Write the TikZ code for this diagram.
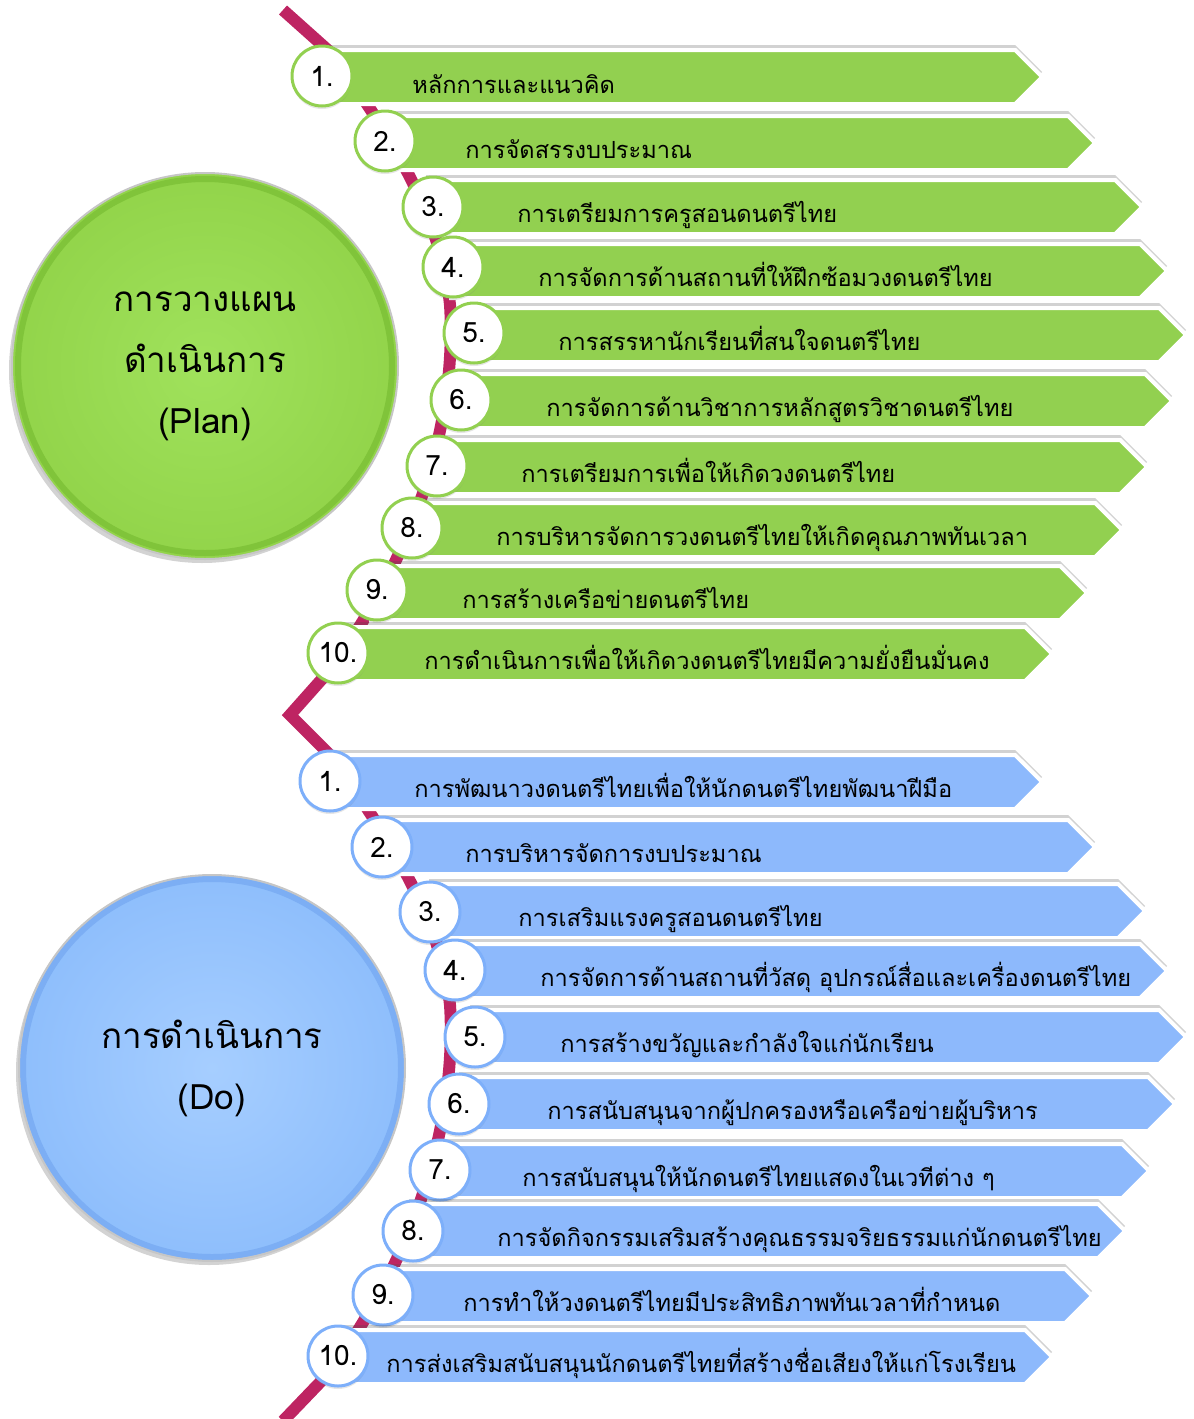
\documentclass[tikz,border=0pt]{standalone}
\usepackage{fontspec}
\setmainfont[Script=Thai]{Loma}
\usepackage{xcolor}
\usepackage{tikz}
\usetikzlibrary{positioning, shapes.symbols, shadows}

\definecolor{barGreen}{RGB}{146,208,80}
\definecolor{barBlue}{RGB}{141,185,252}
\definecolor{rimBlue}{RGB}{125,175,250}
\definecolor{zigzag}{RGB}{190,36,98}
\definecolor{bigGreenIn}{RGB}{160,226,92}
\definecolor{bigGreenOut}{RGB}{146,212,74}
\definecolor{bigGreenRim}{RGB}{128,196,58}
\definecolor{bigBlueIn}{RGB}{166,206,255}
\definecolor{bigBlueOut}{RGB}{142,190,252}
\definecolor{bigBlueRim}{RGB}{124,174,244}

\begin{document}
\begin{tikzpicture}[
    % GLOBAL CFG
    x=0.5pt, y=-0.5pt,
    % Styles
    bar/.style={% For the arrow shaped bars
        signal,
        signal to=east,
        signal from=nowhere,
        anchor=east,
        draw=white,
        line width=2pt,
        minimum height=27pt,
        minimum width=358pt,
        drop shadow={shadow xshift=0pt, shadow yshift=2.5pt, opacity=.25, fill=black!70},
        },
    barG/.style={bar, fill=barGreen},
    barD/.style={bar, fill=barBlue},
    num/.style={% For the numbers
        circle,
        fill=white,
        line width=1.5pt,
        minimum size=30pt,
        inner sep=0pt,
        font=\fontsize{14}{16}\selectfont,
        drop shadow={shadow xshift=0pt, shadow yshift=-1.5pt, opacity=.2},
        },
    numG/.style={num, draw=barGreen},
    numD/.style={num, draw=rimBlue},
    txt/.style={% For the texts in the bars
        anchor=base west,
        inner sep=0pt,
        font=\fontsize{11.8}{14}\selectfont,
        },
    big/.style={% For the two big circles
        circle,
        minimum size=193pt,
        draw=gray!45,
        line width=1pt,
        align=center,
        font=\fontsize{17.5}{30.5}\selectfont,
        drop shadow={shadow xshift=-1.5pt, shadow yshift=-2pt, opacity=.35},
        },
    ]

\useasboundingbox (0,0) rectangle (1194,1419);

% The zigzag line behind the bars
\draw[zigzag, line width=6pt] (283,10) -- (330,52)
    .. controls (365,100) and (440,200) .. (450,305)
    .. controls (455,380) and (440,520) .. (330,670)
    -- (290,715) -- (330,755)
    .. controls (365,805) and (440,905) .. (450,1005)
    .. controls (455,1080) and (440,1220) .. (330,1372)
    -- (283,1421);

% Big circles
\node[big, inner color=bigGreenIn, outer color=bigGreenOut,
    path picture={\draw[bigGreenRim, line width=3pt] (path picture bounding box.center) circle (187);}]
    (plan) at (205,366) {การวางแผน\\ดำเนินการ\\(Plan)};
\node[big, inner color=bigBlueIn, outer color=bigBlueOut,
    path picture={\draw[bigBlueRim, line width=3pt] (path picture bounding box.center) circle (189);}]
    (do) at (212,1068) {การดำเนินการ\\(Do)};

% Plan bars
\node[barG] (p1) at (1045,77) {};
\node[numG] (pn1) at (322,76) {1.};
\node[txt] (pt1) at (412,93) {หลักการและแนวคิด};

\node[barG] (p2) at (1098,143) {};
\node[numG] (pn2) at (385,141) {2.};
\node[txt] (pt2) at (465,158) {การจัดสรรงบประมาณ};

\node[barG] (p3) at (1145,207) {};
\node[numG] (pn3) at (433,207) {3.};
\node[txt] (pt3) at (517,222) {การเตรียมการครูสอนดนตรีไทย};

\node[barG] (p4) at (1170,271) {};
\node[numG] (pn4) at (453,267) {4.};
\node[txt] (pt4) at (538,286) {การจัดการด้านสถานที่ให้ฝึกซ้อมวงดนตรีไทย};

\node[barG] (p5) at (1189,335) {};
\node[numG] (pn5) at (474,333) {5.};
\node[txt] (pt5) at (558,350) {การสรรหานักเรียนที่สนใจดนตรีไทย};

\node[barG] (p6) at (1175,401) {};
\node[numG] (pn6) at (461,400) {6.};
\node[txt] (pt6) at (546,416) {การจัดการด้านวิชาการหลักสูตรวิชาดนตรีไทย};

\node[barG] (p7) at (1150,467) {};
\node[numG] (pn7) at (437,466) {7.};
\node[txt] (pt7) at (521,482) {การเตรียมการเพื่อให้เกิดวงดนตรีไทย};

\node[barG] (p8) at (1125,530) {};
\node[numG] (pn8) at (412,528) {8.};
\node[txt] (pt8) at (496,545) {การบริหารจัดการวงดนตรีไทยให้เกิดคุณภาพทันเวลา};

\node[barG] (p9) at (1090,593) {};
\node[numG] (pn9) at (377,590) {9.};
\node[txt] (pt9) at (462,608) {การสร้างเครือข่ายดนตรีไทย};

\node[barG] (p10) at (1055,654) {};
\node[numG] (pn10) at (338,653) {10.};
\node[txt] (pt10) at (424,669) {การดำเนินการเพื่อให้เกิดวงดนตรีไทยมีความยั่งยืนมั่นคง};

% Do bars
\node[barD] (d1) at (1045,782) {};
\node[numD] (dn1) at (330,781) {1.};
\node[txt] (dt1) at (414,797) {การพัฒนาวงดนตรีไทยเพื่อให้นักดนตรีไทยพัฒนาฝีมือ};

\node[barD] (d2) at (1098,847) {};
\node[numD] (dn2) at (382,847) {2.};
\node[txt] (dt2) at (465,862) {การบริหารจัดการงบประมาณ};

\node[barD] (d3) at (1148,911) {};
\node[numD] (dn3) at (430,912) {3.};
\node[txt] (dt3) at (518,926) {การเสริมแรงครูสอนดนตรีไทย};

\node[barD] (d4) at (1170,971) {};
\node[numD] (dn4) at (455,970) {4.};
\node[txt] (dt4) at (540,986) {การจัดการด้านสถานที่วัสดุ อุปกรณ์สื่อและเครื่องดนตรีไทย};

\node[barD] (d5) at (1189,1037) {};
\node[numD] (dn5) at (475,1037) {5.};
\node[txt] (dt5) at (560,1052) {การสร้างขวัญและกำลังใจแก่นักเรียน};

\node[barD] (d6) at (1178,1104) {};
\node[numD] (dn6) at (459,1104) {6.};
\node[txt] (dt6) at (547,1119) {การสนับสนุนจากผู้ปกครองหรือเครือข่ายผู้บริหาร};

\node[barD] (d7) at (1152,1171) {};
\node[numD] (dn7) at (440,1170) {7.};
\node[txt] (dt7) at (522,1186) {การสนับสนุนให้นักดนตรีไทยแสดงในเวทีต่าง ๆ};

\node[barD] (d8) at (1128,1231) {};
\node[numD] (dn8) at (413,1231) {8.};
\node[txt] (dt8) at (497,1246) {การจัดกิจกรรมเสริมสร้างคุณธรรมจริยธรรมแก่นักดนตรีไทย};

\node[barD] (d9) at (1095,1296) {};
\node[numD] (dn9) at (383,1295) {9.};
\node[txt] (dt9) at (463,1311) {การทำให้วงดนตรีไทยมีประสิทธิภาพทันเวลาที่กำหนด};

\node[barD] (d10) at (1055,1357) {};
\node[numD] (dn10) at (338,1356) {10.};
\node[txt] (dt10) at (386,1372) {การส่งเสริมสนับสนุนนักดนตรีไทยที่สร้างชื่อเสียงให้แก่โรงเรียน};

\end{tikzpicture}
\end{document}
